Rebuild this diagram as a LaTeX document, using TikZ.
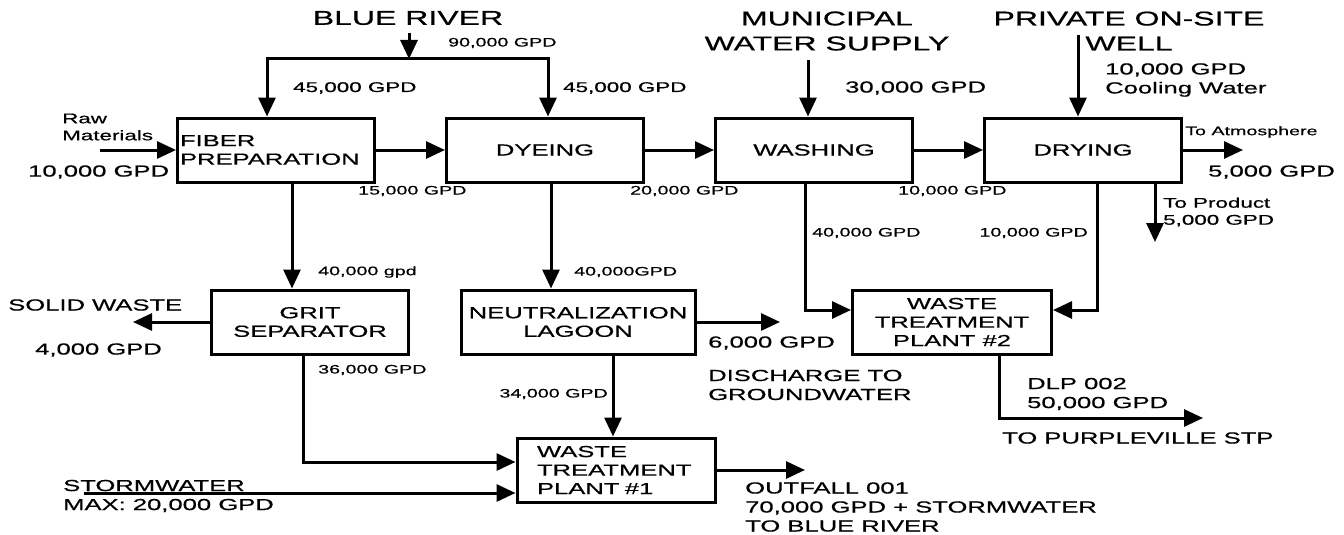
\documentclass[tikz,border=0pt]{standalone}
\usepackage{fontspec}
\setmainfont[FakeStretch=1.6, FakeBold=0.6]{Liberation Sans}
\usetikzlibrary{arrows.meta,positioning}

\begin{document}
\begin{tikzpicture}[x=1pt, y=-1pt, node distance=269pt, >={Triangle[length=19pt,width=17pt]},
  unit/.style={draw, rectangle, line width=3pt, minimum width=197pt, minimum height=64pt, align=center, font=\fontsize{16}{18.5}\selectfont},
  flow/.style={line width=3pt, ->},
  biglabel/.style={inner sep=0pt, align=center, font=\fontsize{20}{25}\selectfont},
  medlabel/.style={inner sep=0pt, align=left, font=\fontsize{16}{19}\selectfont},
  flowlabel/.style={inner sep=0pt, align=left, font=\fontsize{14}{17}\selectfont},
  smalllabel/.style={inner sep=0pt, align=left, font=\fontsize{12.3}{15}\selectfont}]
  \useasboundingbox (0,0) rectangle (1344,535);

  \node[unit, text width=192pt, inner xsep=2.5pt, align=left] (fiber) at (276,150) {FIBER\\PREPARATION};
  \node[unit, right of=fiber] (dyeing) {DYEING};
  \node[unit, right of=dyeing] (washing) {WASHING};
  \node[unit, right of=washing] (drying) {DRYING};
  \node[unit] (grit) at (310,322) {GRIT\\SEPARATOR};
  \node[unit, minimum width=234pt] (lagoon) at (578,322) {NEUTRALIZATION\\LAGOON};
  \node[unit, minimum width=198pt, text width=158pt, align=left] (wtp1) at (616,470) {WASTE\\TREATMENT\\PLANT \#1};
  \node[unit, minimum width=199pt] (wtp2) at (952,322) {WASTE\\TREATMENT\\PLANT \#2};

  \coordinate (riverin) at (409,33);
  \coordinate (splitL) at (267,59);
  \coordinate (splitR) at (548,59);
  \coordinate (muniin) at (808,60);
  \coordinate (wellin) at (1078,35);
  \coordinate (rawin) at (100,150);
  \coordinate (atmo) at (1243,150);
  \coordinate (prod) at (1155,242);
  \coordinate (dryout) at (1097,0);
  \coordinate (washout) at (805,0);
  \coordinate (fiberout) at (292,0);
  \coordinate (dyeout) at (551,0);
  \coordinate (solid) at (133,322);
  \coordinate (gritout) at (303,0);
  \coordinate (storm) at (84,493);
  \coordinate (ground) at (780,322);
  \coordinate (lagoonout) at (613,0);
  \coordinate (outfall) at (805,470);
  \coordinate (wtpout) at (999,0);
  \coordinate (stp) at (1203,418);

  \draw[flow] (riverin) -- (riverin |- splitL);
  \draw[flow, <->] (splitL |- fiber.north) -- (splitL) -- (splitR) -- (splitR |- dyeing.north);
  \draw[flow] (muniin) -- (muniin |- washing.north);
  \draw[flow] (wellin) -- (wellin |- drying.north);
  \draw[flow] (rawin) -- (fiber);
  \draw[flow] (fiber) -- (dyeing);
  \draw[flow] (dyeing) -- (washing);
  \draw[flow] (washing) -- (drying);
  \draw[flow] (drying) -- (atmo);
  \draw[flow] (prod |- drying.south) -- (prod);
  \draw[flow] (dryout |- drying.south) |- ([yshift=12pt]wtp2.east);
  \draw[flow] (washout |- washing.south) |- ([yshift=12pt]wtp2.west);
  \draw[flow] (fiberout |- fiber.south) -- (fiberout |- grit.north);
  \draw[flow] (dyeout |- dyeing.south) -- (dyeout |- lagoon.north);
  \draw[flow] (grit) -- (solid);
  \draw[flow] (gritout |- grit.south) |- ([yshift=8pt]wtp1.west);
  \draw[flow] (storm) -- (storm -| wtp1.west);
  \draw[flow] (lagoon) -- (ground);
  \draw[flow] (lagoonout |- lagoon.south) -- (lagoonout |- wtp1.north);
  \draw[flow] (wtp1) -- (outfall);
  \draw[flow] (wtpout |- wtp2.south) |- (stp);

  \node[biglabel] (river) at (408,18) {BLUE RIVER};
  \node[smalllabel, anchor=west] (qriver) at (448,43) {90,000 GPD};
  \node[flowlabel, anchor=west] (qfiber) at (293,88) {45,000 GPD};
  \node[flowlabel, anchor=west] (qdye) at (563,88) {45,000 GPD};
  \node[biglabel] (muni) at (827,31) {MUNICIPAL\\WATER SUPPLY};
  \node[medlabel, anchor=west] (qmuni) at (845,88) {30,000 GPD};
  \node[biglabel] (well) at (1129,31) {PRIVATE ON-SITE\\WELL};
  \node[medlabel, anchor=west] (qwell) at (1105,80) {10,000 GPD\\Cooling Water};
  \node[flowlabel, anchor=west] (raw) at (62,127) {Raw\\Materials};
  \node[medlabel, anchor=west] (qraw) at (28,172) {10,000 GPD};
  \node[smalllabel, anchor=west] (q1) at (358,191) {15,000 GPD};
  \node[smalllabel, anchor=west] (q2) at (630,191) {20,000 GPD};
  \node[smalllabel, anchor=west] (q3) at (898,191) {10,000 GPD};
  \node[smalllabel, anchor=west] (atmotext) at (1185,132) {To Atmosphere};
  \node[medlabel, anchor=west] (qatmo) at (1208,172) {5,000 GPD};
  \node[flowlabel, anchor=west] (prodtext) at (1163,212) {To Product\\5,000 GPD};
  \node[smalllabel, anchor=east] (qdry) at (1088,233) {10,000 GPD};
  \node[smalllabel, anchor=west] (qwash) at (812,233) {40,000 GPD};
  \node[smalllabel, anchor=west] (qgrit) at (318,272) {40,000 gpd};
  \node[smalllabel, anchor=west] (qlagoon) at (574,272) {40,000GPD};
  \node[medlabel, anchor=west] (solidtext) at (8,305) {SOLID WASTE};
  \node[medlabel, anchor=west] (qsolid) at (35,350) {4,000 GPD};
  \node[smalllabel, anchor=west] (qgritout) at (318,370) {36,000 GPD};
  \node[medlabel, anchor=west] (qground) at (708,343) {6,000 GPD};
  \node[medlabel, anchor=west] (groundtext) at (708,385) {DISCHARGE TO\\GROUNDWATER};
  \node[smalllabel, anchor=east] (qlagoonout) at (608,394) {34,000 GPD};
  \node[medlabel, anchor=west] (stormtext) at (63,496) {STORMWATER\\MAX: 20,000 GPD};
  \node[medlabel, anchor=west] (outfalltext) at (745,507) {OUTFALL 001\\70,000 GPD + STORMWATER\\TO BLUE RIVER};
  \node[medlabel, anchor=west] (stptext) at (1027,394) {DLP 002\\50,000 GPD};
  \node[medlabel, anchor=west] (stpdest) at (1002,438) {TO PURPLEVILLE STP};
\end{tikzpicture}
\end{document}
